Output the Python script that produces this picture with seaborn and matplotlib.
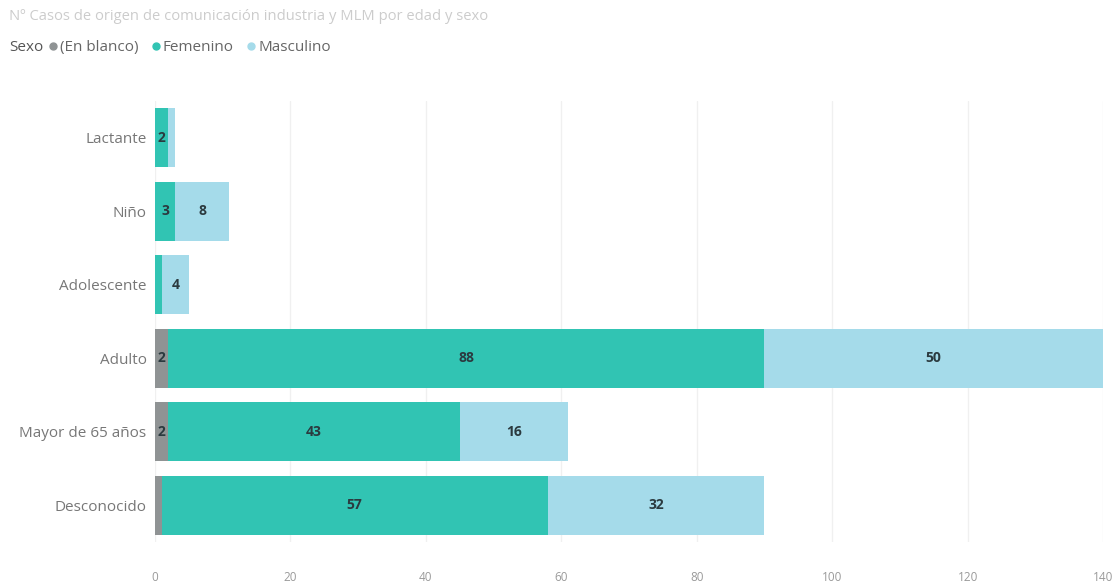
import matplotlib
matplotlib.use("Agg")
import matplotlib.pyplot as plt
import seaborn as sns
import numpy as np
import pandas as pd
from matplotlib.lines import Line2D

# datos
grupos = ["Lactante", "Niño", "Adolescente", "Adulto", "Mayor de 65 años", "Desconocido"]
en_blanco = [0, 0, 0, 2, 2, 1]
femenino = [2, 3, 1, 88, 43, 57]
masculino = [1, 8, 4, 50, 16, 32]
x_ticks = [0, 20, 40, 60, 80, 100, 120, 140]

COL_BLANCO = "#8f9394"
COL_FEM = "#31c4b3"
COL_MASC = "#a5dbea"

sns.set_theme(style="white")
plt.rcParams["font.family"] = ["Open Sans", "DejaVu Sans"]

df = pd.DataFrame({"grupo": grupos, "blanco": en_blanco,
                   "fem": femenino, "masc": masculino})
df["c1"] = df["blanco"]
df["c2"] = df["blanco"] + df["fem"]
df["c3"] = df["c2"] + df["masc"]

fig = plt.figure(figsize=(11.18, 5.85), dpi=100)
ax = fig.add_axes([0.1386, 0.0735, 0.848, 0.754])

# apilado: se dibujan los acumulados de mayor a menor
for col, color, z in (("c3", COL_MASC, 2), ("c2", COL_FEM, 3), ("c1", COL_BLANCO, 4)):
    sns.barplot(data=df, x=col, y="grupo", color=color, width=0.8,
                saturation=1, linewidth=0, ax=ax, zorder=z)

# etiquetas de datos (solo si caben)
for i, row in df.iterrows():
    segs = [(0, row["blanco"]), (row["c1"], row["fem"]), (row["c2"], row["masc"])]
    for start, val in segs:
        if val >= 2:
            ax.text(start + val / 2, i, f"{val}", ha="center", va="center",
                    fontsize=10, fontweight="bold", color="#2b3a3f", zorder=5)

ax.set_xlim(0, 140)
ax.set_xticks(x_ticks)
ax.set_xticklabels([str(t) for t in x_ticks], fontsize=8.5, color="#9a9a9a")
ax.tick_params(axis="y", labelsize=11, labelcolor="#777777", length=0, pad=6)
ax.tick_params(axis="x", length=0, pad=21)
ax.set_xlabel("")
ax.set_ylabel("")
ax.grid(axis="x", color="#f0f0f0", linewidth=1, zorder=0)
ax.set_axisbelow(True)
for s in ax.spines.values():
    s.set_visible(False)

fig.text(0.008, 0.972, "Nº Casos de origen de comunicación industria y MLM por edad y sexo",
         fontsize=10.6, color="#cccccc", va="center")
fig.text(0.008, 0.918, "Sexo", fontsize=11, color="#555555", va="center")

handles = [Line2D([], [], marker="o", linestyle="", markersize=5, color=c)
           for c in (COL_BLANCO, COL_FEM, COL_MASC)]
fig.legend(handles, ["(En blanco)", "Femenino", "Masculino"], ncol=3,
           loc="center left", bbox_to_anchor=(0.042, 0.918), frameon=False,
           fontsize=11, labelcolor="#666666", handletextpad=0.05,
           columnspacing=0.75, handlelength=0.8, borderaxespad=0, borderpad=0)

fig.savefig("out.png", dpi=100, facecolor="white")
